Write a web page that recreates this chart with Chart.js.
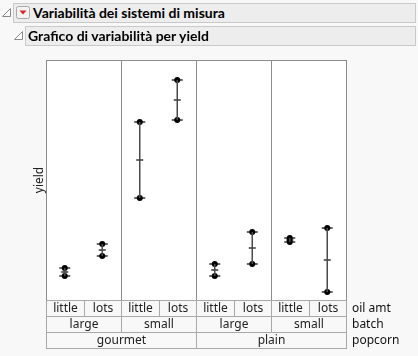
<!DOCTYPE html>
<html>
<head>
<meta charset="utf-8">
<script src="https://cdn.jsdelivr.net/npm/chart.js@4"></script>
<style>
  html, body { margin:0; padding:0; background:#f8f8f8; }
  body { width:418px; height:356px; position:relative; overflow:hidden; font-family:"Noto Sans", "Open Sans", sans-serif; }
  #wrap { position:absolute; left:0; top:0; width:418px; height:356px; }
  .bar { position:absolute; background:#ededed; border:1px solid #c9c9c9; box-sizing:border-box; height:20px;
         font-family:Lato, "Noto Sans", sans-serif; font-weight:bold; font-size:14px; line-height:18px; color:#000; white-space:nowrap; }
  .tri { position:absolute; }
</style>
</head>
<body>
<div id="wrap"><canvas id="c" width="418" height="356"></canvas></div>
<svg class="tri" style="left:1px;top:7px" width="11" height="11"><path d="M9.5 1.5 L9.5 9.5 L1.5 9.5 Z" fill="#fff" stroke="#8a8a8a" stroke-width="1"/></svg>
<div class="bar" style="left:13px;top:3px;width:403px;">
  <svg style="position:absolute;left:2px;top:2px" width="15" height="14"><rect x="0.5" y="0.5" width="13" height="12" rx="2" fill="#f4f4f4" stroke="#a8a8a8"/><path d="M3.5 4.5 L10.5 4.5 L7 8.5 Z" fill="#d22"/></svg>
  <span style="position:absolute;left:19px;top:0px;">Variabilità dei sistemi di misura</span>
</div>
<svg class="tri" style="left:13px;top:30px" width="11" height="11"><path d="M9.5 1.5 L9.5 9.5 L1.5 9.5 Z" fill="#fff" stroke="#8a8a8a" stroke-width="1"/></svg>
<div class="bar" style="left:25px;top:26px;width:391px;">
  <span style="position:absolute;left:2px;top:0px;">Grafico di variabilità per yield</span>
</div>
<script>
// ---- data ----
const popcornLevels = ['gourmet', 'plain'];
const batchLevels = ['large', 'small'];
const oilLevels = ['little', 'lots'];
const rowLabels = ['oil amt', 'batch', 'popcorn'];
const yAxisTitle = 'yield';
// cells in order popcorn > batch > oil amt
const yieldRep1 = [8.6, 9.2, 12.1, 18.0, 8.2, 10.4, 9.9, 10.6];
const yieldRep2 = [8.2, 9.8, 15.9, 16.0, 8.8, 8.8, 10.1, 7.4];
const yMin = 7, yMax = 19;

const nCells = yieldRep1.length;
const rangeData = [], capData = [], pointData = [], meanData = [];
for (let i = 0; i < nCells; i++) {
  const x = i + 0.5;
  rangeData.push({x, y: yieldRep1[i]}, {x, y: yieldRep2[i]}, {x, y: null});
  capData.push({x, y: yieldRep1[i]}, {x, y: yieldRep2[i]});
  pointData.push({x, y: yieldRep1[i]}, {x, y: yieldRep2[i]});
  meanData.push({x, y: (yieldRep1[i] + yieldRep2[i]) / 2});
}

const frame = {
  id: 'frame',
  beforeDatasetsDraw(chart) {
    const {ctx, chartArea: a, scales: {x}} = chart;
    ctx.save();
    ctx.fillStyle = '#ffffff';
    ctx.fillRect(a.left, a.top, a.right - a.left, a.bottom - a.top);
    ctx.strokeStyle = '#8c8c8c';
    ctx.lineWidth = 1;
    for (let k = 2; k < nCells; k += 2) {
      const px = Math.round(x.getPixelForValue(k)) + 0.5;
      ctx.beginPath(); ctx.moveTo(px, a.top); ctx.lineTo(px, a.bottom); ctx.stroke();
    }
    ctx.strokeRect(a.left + 0.5, a.top + 0.5, a.right - a.left, a.bottom - a.top);
    ctx.restore();
  },
  afterDraw(chart) {
    const {ctx, chartArea: a, scales: {x}} = chart;
    ctx.save();
    // y title
    ctx.font = '12px "Noto Sans", sans-serif';
    ctx.fillStyle = '#222';
    ctx.textAlign = 'center'; ctx.textBaseline = 'middle';
    ctx.translate(a.left - 6, (a.top + a.bottom) / 2);
    ctx.rotate(-Math.PI / 2);
    ctx.fillText(yAxisTitle, 0, 0);
    ctx.restore();

    ctx.save();
    const rowH = 16;
    const rows = [
      {labels: [], span: 1},
      {labels: [], span: 2},
      {labels: [], span: 4}
    ];
    for (let p = 0; p < popcornLevels.length; p++)
      for (let b = 0; b < batchLevels.length; b++)
        for (let o = 0; o < oilLevels.length; o++) rows[0].labels.push(oilLevels[o]);
    for (let p = 0; p < popcornLevels.length; p++)
      for (let b = 0; b < batchLevels.length; b++) rows[1].labels.push(batchLevels[b]);
    for (let p = 0; p < popcornLevels.length; p++) rows[2].labels.push(popcornLevels[p]);
    ctx.strokeStyle = '#a8a8a8';
    ctx.lineWidth = 1;
    ctx.font = '12px "Noto Sans", sans-serif';
    ctx.textBaseline = 'middle';
    rows.forEach((r, ri) => {
      const top = a.bottom + ri * rowH;
      r.labels.forEach((lab, li) => {
        const x0 = Math.round(x.getPixelForValue(li * r.span));
        const x1 = Math.round(x.getPixelForValue((li + 1) * r.span));
        ctx.strokeRect(x0 + 0.5, top + 0.5, x1 - x0, rowH);
        ctx.fillStyle = '#222';
        ctx.textAlign = 'center';
        ctx.fillText(lab, (x0 + x1) / 2 + 0.5, top + rowH / 2 + 1);
      });
      ctx.textAlign = 'left';
      ctx.fillStyle = '#111';
      ctx.fillText(rowLabels[ri], a.right + 6, top + rowH / 2 + 1);
    });
    ctx.restore();
  }
};

new Chart(document.getElementById('c'), {
  type: 'scatter',
  data: {
    datasets: [
      {data: rangeData, showLine: true, spanGaps: false, borderColor: '#4a4a4a', borderWidth: 1.5, pointRadius: 0},
      {data: capData, pointStyle: 'line', pointRadius: 5.5, borderColor: '#000', borderWidth: 1.2},
      {data: pointData, pointStyle: 'circle', pointRadius: 3, backgroundColor: '#000', borderColor: '#000', borderWidth: 0},
      {data: meanData, pointStyle: 'line', pointRadius: 3.5, borderColor: '#000', borderWidth: 1.2}
    ]
  },
  options: {
    responsive: false,
    animation: false,
    events: [],
    layout: {padding: {left: 46, right: 72, top: 60, bottom: 56}},
    plugins: {legend: {display: false}, tooltip: {enabled: false}},
    scales: {
      x: {type: 'linear', min: 0, max: nCells, display: false},
      y: {type: 'linear', min: yMin, max: yMax, display: false}
    }
  },
  plugins: [frame]
});
</script>
</body>
</html>
